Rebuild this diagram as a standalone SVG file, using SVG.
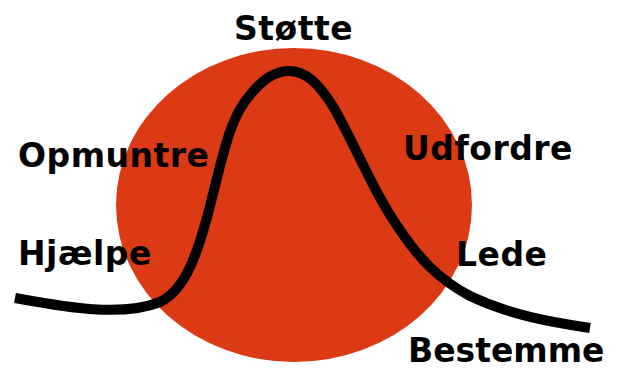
<svg xmlns="http://www.w3.org/2000/svg" width="617" height="373" viewBox="0 0 617 373">
<style>
.lbl{font-family:"DejaVu Sans",sans-serif;font-weight:bold;font-size:33px;letter-spacing:0.5px;fill:#000}
</style>
<rect width="617" height="373" fill="#fff"/>
<g id="circle"><ellipse cx="294" cy="205" rx="178" ry="157" fill="#DC3915"/></g>
<g id="connectors">
<path d="M15,298 C60,306 120,318 160,302 C185,290 198,255 212,198 C225,145 232,115 250,95 C262,80 275,71 289,71 C305,71 318,82 334,108 C355,145 375,195 400,230 C420,260 440,280 470,296 C510,315 550,322 590,328" fill="none" stroke="#000" stroke-width="10"/>
</g>
<g id="n-stotte"><text class="lbl" x="234" y="40">Støtte</text></g>
<g id="n-opmuntre"><text class="lbl" x="18" y="167">Opmuntre</text></g>
<g id="n-hjaelpe"><text class="lbl" x="18" y="265">Hjælpe</text></g>
<g id="n-udfordre"><text class="lbl" x="403" y="160">Udfordre</text></g>
<g id="n-lede"><text class="lbl" x="456" y="266">Lede</text></g>
<g id="n-bestemme"><text class="lbl" x="408" y="362" style="letter-spacing:0">Bestemme</text></g>
</svg>
